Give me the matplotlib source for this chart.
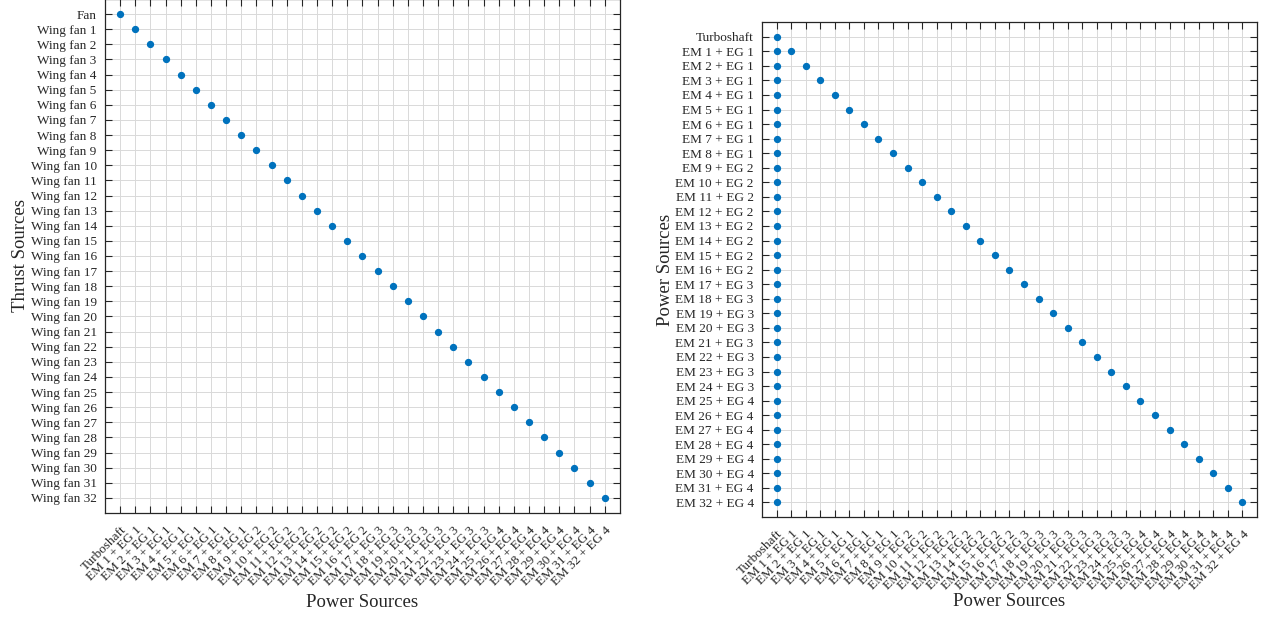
import numpy as np
import matplotlib
matplotlib.use('Agg')
import matplotlib.pyplot as plt

plt.rcParams['font.family'] = ['Liberation Serif', 'DejaVu Serif']

power_labels = ['Turboshaft',
                'EM 1 + EG 1', 'EM 2 + EG 1', 'EM 3 + EG 1', 'EM 4 + EG 1',
                'EM 5 + EG 1', 'EM 6 + EG 1', 'EM 7 + EG 1', 'EM 8 + EG 1',
                'EM 9 + EG 2', 'EM 10 + EG 2', 'EM 11 + EG 2', 'EM 12 + EG 2',
                'EM 13 + EG 2', 'EM 14 + EG 2', 'EM 15 + EG 2', 'EM 16 + EG 2',
                'EM 17 + EG 3', 'EM 18 + EG 3', 'EM 19 + EG 3', 'EM 20 + EG 3',
                'EM 21 + EG 3', 'EM 22 + EG 3', 'EM 23 + EG 3', 'EM 24 + EG 3',
                'EM 25 + EG 4', 'EM 26 + EG 4', 'EM 27 + EG 4', 'EM 28 + EG 4',
                'EM 29 + EG 4', 'EM 30 + EG 4', 'EM 31 + EG 4', 'EM 32 + EG 4']
thrust_labels = ['Fan',
                 'Wing fan 1', 'Wing fan 2', 'Wing fan 3', 'Wing fan 4',
                 'Wing fan 5', 'Wing fan 6', 'Wing fan 7', 'Wing fan 8',
                 'Wing fan 9', 'Wing fan 10', 'Wing fan 11', 'Wing fan 12',
                 'Wing fan 13', 'Wing fan 14', 'Wing fan 15', 'Wing fan 16',
                 'Wing fan 17', 'Wing fan 18', 'Wing fan 19', 'Wing fan 20',
                 'Wing fan 21', 'Wing fan 22', 'Wing fan 23', 'Wing fan 24',
                 'Wing fan 25', 'Wing fan 26', 'Wing fan 27', 'Wing fan 28',
                 'Wing fan 29', 'Wing fan 30', 'Wing fan 31', 'Wing fan 32']

# left: power source (column) driving each thrust source (row)
left_col = [0, 1, 2, 3, 4, 5, 6, 7, 8, 9, 10, 11, 12, 13, 14, 15, 16,
            17, 18, 19, 20, 21, 22, 23, 24, 25, 26, 27, 28, 29, 30, 31, 32]
left_row = [0, 1, 2, 3, 4, 5, 6, 7, 8, 9, 10, 11, 12, 13, 14, 15, 16,
            17, 18, 19, 20, 21, 22, 23, 24, 25, 26, 27, 28, 29, 30, 31, 32]

# right: power-to-power connections
right_col = [0, 0, 0, 0, 0, 0, 0, 0, 0, 0, 0, 0, 0, 0, 0, 0, 0,
             0, 0, 0, 0, 0, 0, 0, 0, 0, 0, 0, 0, 0, 0, 0, 0,
             1, 2, 3, 4, 5, 6, 7, 8, 9, 10, 11, 12, 13, 14, 15, 16,
             17, 18, 19, 20, 21, 22, 23, 24, 25, 26, 27, 28, 29, 30, 31, 32]
right_row = [0, 1, 2, 3, 4, 5, 6, 7, 8, 9, 10, 11, 12, 13, 14, 15, 16,
             17, 18, 19, 20, 21, 22, 23, 24, 25, 26, 27, 28, 29, 30, 31, 32,
             1, 2, 3, 4, 5, 6, 7, 8, 9, 10, 11, 12, 13, 14, 15, 16,
             17, 18, 19, 20, 21, 22, 23, 24, 25, 26, 27, 28, 29, 30, 31, 32]

dot_color = '#0072BD'
txt = '#262626'

fig = plt.figure(figsize=(12.62, 6.17), dpi=100)
ax1 = fig.add_axes([0.0832, 0.1686, 0.408, 0.833])
ax2 = fig.add_axes([0.6038, 0.162, 0.3922, 0.802])


def style(ax, xlabels, ylabels):
    n = len(xlabels)
    ax.set_xlim(-1, n)
    ax.set_ylim(len(ylabels), -1)
    ax.set_xticks(np.arange(n))
    ax.set_xticklabels(xlabels, rotation=45, ha='right', rotation_mode='anchor',
                       fontsize=9.5, color=txt)
    ax.set_yticks(np.arange(len(ylabels)))
    ax.set_yticklabels(ylabels, fontsize=9.5, color=txt)
    ax.tick_params(direction='in', length=5, width=0.8, color=txt,
                   top=True, right=True)
    ax.tick_params(axis='y', pad=6)
    ax.tick_params(axis='x', pad=8)
    ax.grid(True, color='#d9d9d9', linewidth=0.7)
    ax.set_axisbelow(True)
    for s in ax.spines.values():
        s.set_color(txt)
        s.set_linewidth(0.9)


ax1.scatter(left_col, left_row, s=18, color=dot_color, zorder=3)
style(ax1, power_labels, thrust_labels)
ax1.set_xlabel('Power Sources', fontsize=13.5, color=txt, labelpad=4)
ax1.set_ylabel('Thrust Sources', fontsize=13.5, color=txt, labelpad=1)

ax2.scatter(right_col, right_row, s=18, color=dot_color, zorder=3)
style(ax2, power_labels, power_labels)
ax2.set_xlabel('Power Sources', fontsize=13.5, color=txt, labelpad=1)
ax2.set_ylabel('Power Sources', fontsize=13.5, color=txt, labelpad=1)

fig.savefig('out.png', dpi=100)
